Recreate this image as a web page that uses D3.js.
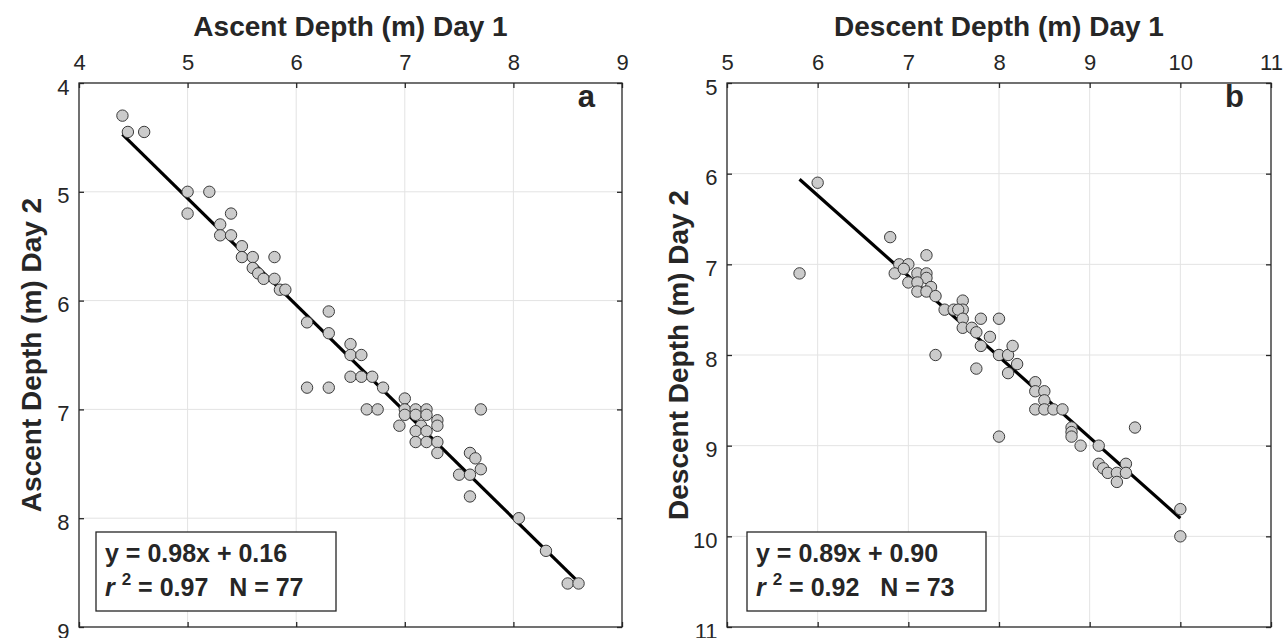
<!DOCTYPE html>
<html>
<head>
<meta charset="utf-8">
<script src="https://cdn.jsdelivr.net/npm/d3@7"></script>
<style>
  body { margin: 0; background: #fff; }
  svg text { font-family: "Liberation Sans", Arial, Helvetica, sans-serif; fill: #262626; }
</style>
</head>
<body>
<div id="chart"></div>
<script>
// data
var ascentDay1 = [4.4, 4.45, 4.6, 5.0, 5.2, 5.0, 5.4, 5.3, 5.3, 5.4, 5.5, 5.5, 5.6, 5.8, 5.6, 5.65, 5.7, 5.8, 5.85, 5.9,
  6.3, 6.1, 6.3, 6.5, 6.5, 6.6, 6.5, 6.6, 6.7, 6.8, 6.1, 6.3, 6.65, 6.75, 7.0, 7.0, 7.1, 7.2, 7.0, 7.1, 7.2, 7.3,
  6.95, 7.15, 7.3, 7.1, 7.2, 7.1, 7.2, 7.3, 7.3, 7.7, 7.6, 7.65, 7.7, 7.5, 7.6, 7.6, 8.05, 8.3, 8.5, 8.6];
var ascentDay2 = [4.3, 4.45, 4.45, 5.0, 5.0, 5.2, 5.2, 5.3, 5.4, 5.4, 5.5, 5.6, 5.6, 5.6, 5.7, 5.75, 5.8, 5.8, 5.9, 5.9,
  6.1, 6.2, 6.3, 6.4, 6.5, 6.5, 6.7, 6.7, 6.7, 6.8, 6.8, 6.8, 7.0, 7.0, 6.9, 7.0, 7.0, 7.0, 7.05, 7.05, 7.05, 7.1,
  7.15, 7.15, 7.15, 7.2, 7.2, 7.3, 7.3, 7.3, 7.4, 7.0, 7.4, 7.45, 7.55, 7.6, 7.6, 7.8, 8.0, 8.3, 8.6, 8.6];

var descentDay1 = [6.0, 5.8, 6.8, 6.9, 7.0, 6.85, 6.95, 7.2, 7.1, 7.2, 7.2, 7.0, 7.1, 7.25, 7.1, 7.2, 7.3, 7.4, 7.5, 7.6,
  7.6, 7.55, 7.6, 7.6, 7.7, 7.8, 8.0, 7.75, 7.9, 7.8, 7.3, 7.75, 8.0, 8.1, 8.15, 8.1, 8.2, 8.0, 8.4, 8.4, 8.5, 8.5,
  8.4, 8.5, 8.6, 8.7, 8.8, 8.8, 8.8, 8.9, 9.5, 9.1, 9.1, 9.15, 9.2, 9.3, 9.3, 9.4, 9.4, 10.0, 10.0];
var descentDay2 = [6.1, 7.1, 6.7, 7.0, 7.0, 7.1, 7.05, 6.9, 7.1, 7.1, 7.15, 7.2, 7.2, 7.25, 7.3, 7.3, 7.35, 7.5, 7.5, 7.4,
  7.5, 7.5, 7.6, 7.7, 7.7, 7.6, 7.6, 7.75, 7.8, 7.9, 8.0, 8.15, 8.0, 8.0, 7.9, 8.2, 8.1, 8.9, 8.3, 8.4, 8.4, 8.5,
  8.6, 8.6, 8.6, 8.6, 8.8, 8.85, 8.9, 9.0, 8.8, 9.0, 9.2, 9.25, 9.3, 9.3, 9.4, 9.2, 9.3, 9.7, 10.0];

var ascentFit = { slope: 0.98, intercept: 0.16, x0: 4.4, x1: 8.6 };
var descentFit = { slope: 0.89, intercept: 0.90, x0: 5.8, x1: 10.0 };

var ascentTicks = [4, 5, 6, 7, 8, 9];
var descentTicks = [5, 6, 7, 8, 9, 10, 11];

var svg = d3.select("#chart").append("svg")
  .attr("width", 1283)
  .attr("height", 638);

function drawPanel(opt) {
  var w = opt.right - opt.left;
  var h = opt.bottom - opt.top;
  var x = d3.scaleLinear().domain(opt.domain).range([0, w]);
  var y = d3.scaleLinear().domain(opt.domain).range([0, h]);
  var fmt = d3.format("d");

  var g = svg.append("g").attr("transform", `translate(${opt.left}, ${opt.top})`);

  // grid
  g.selectAll(".vgrid").data(opt.ticks.slice(1, -1)).enter().append("line")
    .attr("x1", d => x(d)).attr("x2", d => x(d))
    .attr("y1", 0).attr("y2", h)
    .attr("stroke", "#e3e3e3").attr("stroke-width", 1);
  g.selectAll(".hgrid").data(opt.ticks.slice(1, -1)).enter().append("line")
    .attr("y1", d => y(d)).attr("y2", d => y(d))
    .attr("x1", 0).attr("x2", w)
    .attr("stroke", "#e3e3e3").attr("stroke-width", 1);

  // axes, ticks pointing inward
  var top = g.append("g").call(d3.axisTop(x).tickValues(opt.ticks).tickFormat(fmt).tickSize(-5).tickPadding(13.5));
  var left = g.append("g").call(d3.axisLeft(y).tickValues(opt.ticks).tickFormat(fmt).tickSize(-5).tickPadding(9.5));
  var bottom = g.append("g").attr("transform", `translate(0, ${h})`)
    .call(d3.axisBottom(x).tickValues(opt.ticks).tickSize(-5).tickFormat(""));
  var right = g.append("g").attr("transform", `translate(${w}, 0)`)
    .call(d3.axisRight(y).tickValues(opt.ticks).tickSize(-5).tickFormat(""));

  [top, left, bottom, right].forEach(function(a) {
    a.select(".domain").remove();
    a.selectAll("line").attr("stroke", "#262626").attr("stroke-width", 1.3);
    a.selectAll("text").attr("font-size", 22).attr("fill", "#262626")
      .style("font-family", '"Liberation Sans", Arial, sans-serif');
  });
  left.selectAll("text").attr("dy", "0.5em");
  top.selectAll("text").attr("dy", "0em");

  g.append("rect")
    .attr("width", w).attr("height", h)
    .attr("fill", "none").attr("stroke", "#262626").attr("stroke-width", 1.3);

  // fit line
  var f = opt.fit;
  g.append("line")
    .attr("x1", x(f.x0)).attr("y1", y(f.slope * f.x0 + f.intercept))
    .attr("x2", x(f.x1)).attr("y2", y(f.slope * f.x1 + f.intercept))
    .attr("stroke", "#000").attr("stroke-width", 3.2);

  // points
  g.selectAll("circle").data(opt.xs).enter().append("circle")
    .attr("cx", d => x(d))
    .attr("cy", (d, i) => y(opt.ys[i]))
    .attr("r", 5.7)
    .attr("fill", "#cbcbcb")
    .attr("stroke", "#3a3a3a")
    .attr("stroke-width", 1);

  // titles
  svg.append("text")
    .attr("x", opt.left + w / 2).attr("y", 36)
    .attr("text-anchor", "middle")
    .attr("font-size", 28).attr("font-weight", "bold")
    .text(opt.xTitle);

  svg.append("text")
    .attr("transform", `translate(${opt.yTitleX}, ${opt.top + h / 2}) rotate(-90)`)
    .attr("text-anchor", "middle")
    .attr("dy", "0.36em")
    .attr("font-size", 28).attr("font-weight", "bold")
    .text(opt.yTitle);

  // panel letter
  g.append("text")
    .attr("x", w - 27).attr("y", 24)
    .attr("text-anchor", "end")
    .attr("font-size", 31).attr("font-weight", "bold")
    .attr("fill", "#000")
    .text(opt.letter);

  // stats box
  var box = g.append("g").attr("transform", `translate(${opt.boxX}, ${h - 95})`);
  box.append("rect")
    .attr("width", opt.boxW).attr("height", 79)
    .attr("fill", "#fff").attr("stroke", "#262626").attr("stroke-width", 1.3);
  box.append("text")
    .attr("x", 9).attr("y", 30)
    .attr("font-size", 25).attr("font-weight", "bold").attr("fill", "#000")
    .text(`y = ${f.slope.toFixed(2)}x + ${f.intercept.toFixed(2)}`);
  var t2 = box.append("text")
    .attr("x", 9).attr("y", 64)
    .attr("font-size", 25).attr("font-weight", "bold").attr("fill", "#000")
    .style("white-space", "pre");
  t2.append("tspan").attr("font-style", "italic").text("r");
  t2.append("tspan").text(" ");
  t2.append("tspan").attr("font-size", 17).attr("dy", -11).text("2");
  t2.append("tspan").attr("dy", 11).text(` = ${opt.r2}   N = ${opt.n}`);
}

drawPanel({
  left: 79, right: 622, top: 83, bottom: 627,
  domain: [4, 9], ticks: ascentTicks,
  xs: ascentDay1, ys: ascentDay2, fit: ascentFit,
  xTitle: "Ascent Depth (m) Day 1", yTitle: "Ascent Depth (m) Day 2", yTitleX: 31,
  letter: "a", boxX: 17, boxW: 240, r2: "0.97", n: 77
});

drawPanel({
  left: 727, right: 1271, top: 83, bottom: 627,
  domain: [5, 11], ticks: descentTicks,
  xs: descentDay1, ys: descentDay2, fit: descentFit,
  xTitle: "Descent Depth (m) Day 1", yTitle: "Descent Depth (m) Day 2", yTitleX: 678,
  letter: "b", boxX: 20, boxW: 239, r2: "0.92", n: 73
});
</script>
</body>
</html>
